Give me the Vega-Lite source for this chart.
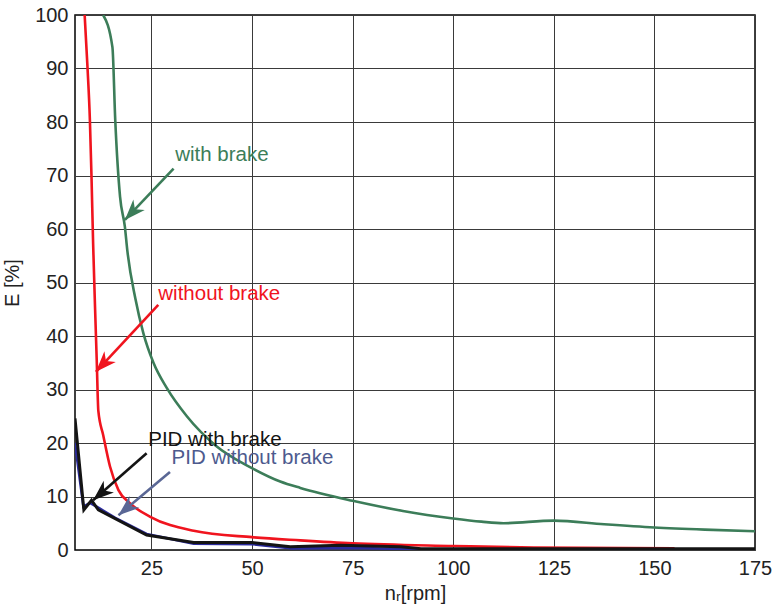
{
  "$schema": "https://vega.github.io/schema/vega-lite/v6.json",
  "width": 680,
  "height": 535,
  "autosize": {"type": "none"},
  "padding": {"left": 75, "top": 15, "right": 17, "bottom": 57},
  "background": "white",
  "config": {
    "view": {"stroke": "#000", "strokeWidth": 1.5},
    "font": "Liberation Sans",
    "axis": {
      "labelFont": "Liberation Sans",
      "titleFont": "Liberation Sans",
      "labelFontSize": 20,
      "titleFontSize": 20,
      "labelColor": "#222",
      "titleColor": "#222",
      "titleFontWeight": "normal",
      "grid": true,
      "gridColor": "#3a3a3a",
      "gridWidth": 1,
      "ticks": false,
      "domain": false,
      "labelFlush": false,
      "labelOverlap": false
    }
  },
  "datasets": {
    "curves": [
      {"series": "with brake", "n": 13, "E": 100},
      {"series": "with brake", "n": 15.3, "E": 94},
      {"series": "with brake", "n": 16, "E": 80.4},
      {"series": "with brake", "n": 17.2, "E": 66},
      {"series": "with brake", "n": 18.4, "E": 60.4},
      {"series": "with brake", "n": 19, "E": 56},
      {"series": "with brake", "n": 21, "E": 47},
      {"series": "with brake", "n": 23, "E": 40.5},
      {"series": "with brake", "n": 25.5, "E": 35},
      {"series": "with brake", "n": 28.8, "E": 30.3},
      {"series": "with brake", "n": 33.8, "E": 25},
      {"series": "with brake", "n": 41, "E": 19.5},
      {"series": "with brake", "n": 50, "E": 15.3},
      {"series": "with brake", "n": 57, "E": 12.8},
      {"series": "with brake", "n": 62, "E": 11.6},
      {"series": "with brake", "n": 75, "E": 9.2},
      {"series": "with brake", "n": 87.5, "E": 7.3},
      {"series": "with brake", "n": 100, "E": 5.9},
      {"series": "with brake", "n": 107, "E": 5.3},
      {"series": "with brake", "n": 112.5, "E": 5.0},
      {"series": "with brake", "n": 125, "E": 5.5},
      {"series": "with brake", "n": 137.5, "E": 4.8},
      {"series": "with brake", "n": 150, "E": 4.2},
      {"series": "with brake", "n": 162.5, "E": 3.8},
      {"series": "with brake", "n": 175, "E": 3.5},
      {"series": "without brake", "n": 8.4, "E": 100},
      {"series": "without brake", "n": 9.1, "E": 90.3},
      {"series": "without brake", "n": 9.7, "E": 80.4},
      {"series": "without brake", "n": 10.1, "E": 69.8},
      {"series": "without brake", "n": 10.5, "E": 57.4},
      {"series": "without brake", "n": 11, "E": 44.9},
      {"series": "without brake", "n": 11.4, "E": 35.5},
      {"series": "without brake", "n": 11.8, "E": 26},
      {"series": "without brake", "n": 13, "E": 21.5},
      {"series": "without brake", "n": 14.7, "E": 15.6},
      {"series": "without brake", "n": 16.8, "E": 11.2},
      {"series": "without brake", "n": 19.7, "E": 8.7},
      {"series": "without brake", "n": 24.7, "E": 6.2},
      {"series": "without brake", "n": 35.5, "E": 3.6},
      {"series": "without brake", "n": 50, "E": 2.4},
      {"series": "without brake", "n": 62, "E": 1.8},
      {"series": "without brake", "n": 75, "E": 1.25},
      {"series": "without brake", "n": 100, "E": 0.75},
      {"series": "without brake", "n": 120, "E": 0.45},
      {"series": "without brake", "n": 155, "E": 0.3},
      {"series": "PID without brake", "n": 6, "E": 20},
      {"series": "PID without brake", "n": 8.1, "E": 8.1},
      {"series": "PID without brake", "n": 9.7, "E": 8.8},
      {"series": "PID without brake", "n": 11.8, "E": 7.9},
      {"series": "PID without brake", "n": 16, "E": 6},
      {"series": "PID without brake", "n": 23.8, "E": 3.0},
      {"series": "PID without brake", "n": 35.5, "E": 1.2},
      {"series": "PID without brake", "n": 50, "E": 1.1},
      {"series": "PID without brake", "n": 60, "E": 0.3},
      {"series": "PID without brake", "n": 75, "E": 0.4},
      {"series": "PID without brake", "n": 90, "E": 0.15},
      {"series": "PID without brake", "n": 175, "E": 0.15},
      {"series": "PID with brake", "n": 6, "E": 24.6},
      {"series": "PID with brake", "n": 8.2, "E": 7.5},
      {"series": "PID with brake", "n": 10.1, "E": 9.3},
      {"series": "PID with brake", "n": 11.8, "E": 7.5},
      {"series": "PID with brake", "n": 23.8, "E": 2.8},
      {"series": "PID with brake", "n": 35.5, "E": 1.4},
      {"series": "PID with brake", "n": 50, "E": 1.4},
      {"series": "PID with brake", "n": 59.5, "E": 0.6},
      {"series": "PID with brake", "n": 72, "E": 0.9},
      {"series": "PID with brake", "n": 87, "E": 0.6},
      {"series": "PID with brake", "n": 92, "E": 0.25},
      {"series": "PID with brake", "n": 175, "E": 0.25}
    ],
    "notes": [
      {"label": "with brake", "tx": 30.9, "ty": 73.8, "x0": 30.5, "y0": 71.3, "x1": 18.4, "y1": 61.7},
      {"label": "without brake", "tx": 26.7, "ty": 47.9, "x0": 26.7, "y0": 45.8, "x1": 11.2, "y1": 33.3},
      {"label": "PID with brake", "tx": 24.2, "ty": 20.6, "x0": 23.8, "y0": 18.1, "x1": 10.5, "y1": 9.3},
      {"label": "PID without brake", "tx": 30, "ty": 17.2, "x0": 29.6, "y0": 14.6, "x1": 16.8, "y1": 6.5}
    ]
  },
  "layer": [
    {
      "data": {"name": "curves"},
      "transform": [{"filter": "datum.series === 'with brake'"}],
      "mark": {"type": "line", "color": "#3c7d59", "strokeWidth": 2.6, "clip": true, "interpolate": "monotone"},
      "encoding": {
        "x": {"field": "n", "type": "quantitative", "scale": {"domain": [6, 175], "nice": false, "zero": false},
              "axis": {"values": [25, 50, 75, 100, 125, 150, 175], "title": "nᵣ[rpm]", "labelPadding": 8, "titlePadding": 5}},
        "y": {"field": "E", "type": "quantitative", "scale": {"domain": [0, 100], "nice": false},
              "axis": {"values": [0, 10, 20, 30, 40, 50, 60, 70, 80, 90, 100], "title": "E [%]", "labelPadding": 7, "titlePadding": 12}}
      }
    },
    {
      "data": {"name": "curves"},
      "transform": [{"filter": "datum.series === 'without brake'"}],
      "mark": {"type": "line", "color": "#f0141e", "strokeWidth": 2.6, "clip": true, "interpolate": "monotone"},
      "encoding": {
        "x": {"field": "n", "type": "quantitative"},
        "y": {"field": "E", "type": "quantitative"}
      }
    },
    {
      "data": {"name": "curves"},
      "transform": [{"filter": "datum.series === 'PID without brake'"}],
      "mark": {"type": "line", "color": "#2a2a9c", "strokeWidth": 2.6, "clip": true},
      "encoding": {
        "x": {"field": "n", "type": "quantitative"},
        "y": {"field": "E", "type": "quantitative"}
      }
    },
    {
      "data": {"name": "curves"},
      "transform": [{"filter": "datum.series === 'PID with brake'"}],
      "mark": {"type": "line", "color": "#141414", "strokeWidth": 3, "clip": true},
      "encoding": {
        "x": {"field": "n", "type": "quantitative"},
        "y": {"field": "E", "type": "quantitative"}
      }
    },
    {
      "data": {"name": "notes"},
      "mark": {"type": "rule", "strokeWidth": 2.6},
      "encoding": {
        "x": {"field": "x0", "type": "quantitative"},
        "y": {"field": "y0", "type": "quantitative"},
        "x2": {"field": "x1"},
        "y2": {"field": "y1"},
        "color": {"field": "label", "type": "nominal", "legend": null,
                  "scale": {"domain": ["with brake", "without brake", "PID with brake", "PID without brake"],
                            "range": ["#3c7d59", "#f0141e", "#141414", "#5a6795"]}}
      }
    },
    {
      "data": {"name": "notes"},
      "transform": [{"filter": "datum.label === 'with brake'"}],
      "mark": {"type": "point", "shape": "M0,0L-0.45,1.2L0,0.85L0.45,1.2Z", "filled": true, "opacity": 1, "size": 1200, "angle": 223, "color": "#3c7d59"},
      "encoding": {"x": {"field": "x1", "type": "quantitative"}, "y": {"field": "y1", "type": "quantitative"}}
    },
    {
      "data": {"name": "notes"},
      "transform": [{"filter": "datum.label === 'without brake'"}],
      "mark": {"type": "point", "shape": "M0,0L-0.45,1.2L0,0.85L0.45,1.2Z", "filled": true, "opacity": 1, "size": 1200, "angle": 223, "color": "#f0141e"},
      "encoding": {"x": {"field": "x1", "type": "quantitative"}, "y": {"field": "y1", "type": "quantitative"}}
    },
    {
      "data": {"name": "notes"},
      "transform": [{"filter": "datum.label === 'PID with brake'"}],
      "mark": {"type": "point", "shape": "M0,0L-0.45,1.2L0,0.85L0.45,1.2Z", "filled": true, "opacity": 1, "size": 1200, "angle": 229, "color": "#141414"},
      "encoding": {"x": {"field": "x1", "type": "quantitative"}, "y": {"field": "y1", "type": "quantitative"}}
    },
    {
      "data": {"name": "notes"},
      "transform": [{"filter": "datum.label === 'PID without brake'"}],
      "mark": {"type": "point", "shape": "M0,0L-0.45,1.2L0,0.85L0.45,1.2Z", "filled": true, "opacity": 1, "size": 1200, "angle": 230, "color": "#5a6795"},
      "encoding": {"x": {"field": "x1", "type": "quantitative"}, "y": {"field": "y1", "type": "quantitative"}}
    },
    {
      "data": {"name": "notes"},
      "mark": {"type": "text", "align": "left", "baseline": "middle", "fontSize": 20.5, "font": "Liberation Sans"},
      "encoding": {
        "x": {"field": "tx", "type": "quantitative"},
        "y": {"field": "ty", "type": "quantitative"},
        "text": {"field": "label"},
        "color": {"field": "label", "type": "nominal", "legend": null,
                  "scale": {"domain": ["with brake", "without brake", "PID with brake", "PID without brake"],
                            "range": ["#3c7d59", "#f0141e", "#141414", "#4d5a8e"]}}
      }
    }
  ],
  "resolve": {"scale": {"color": "independent"}}
}
